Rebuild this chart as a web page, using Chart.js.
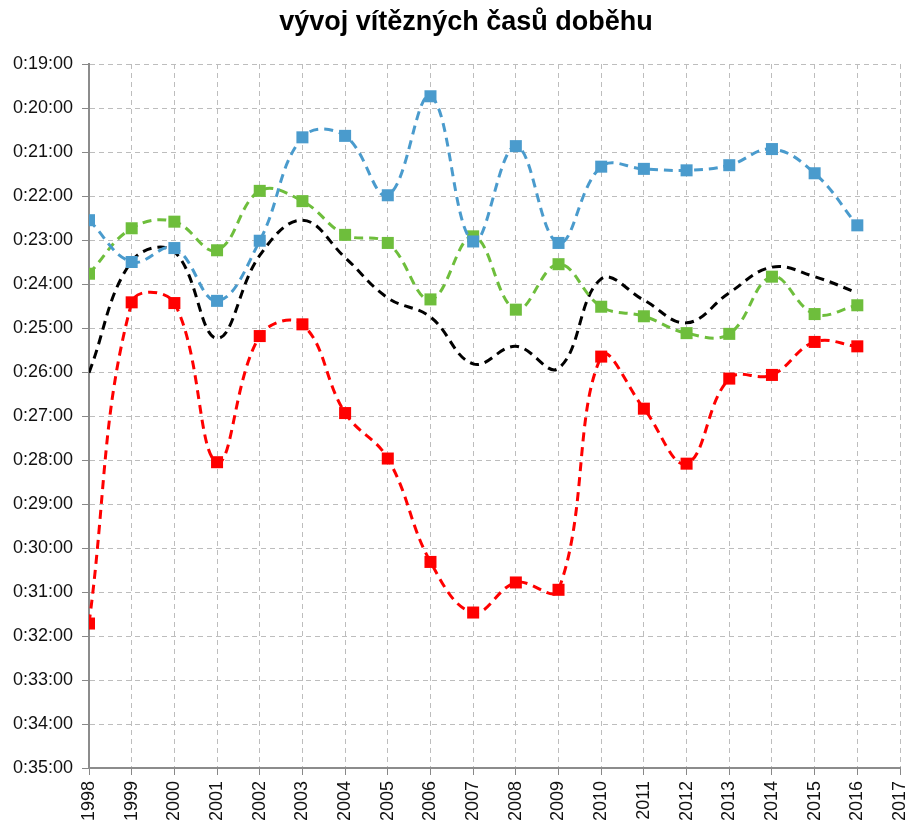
<!DOCTYPE html>
<html>
<head>
<meta charset="utf-8">
<script src="https://cdn.jsdelivr.net/npm/chart.js@4"></script>
<style>
  body { margin: 0; background: #fff; }
  #wrap { width: 911px; height: 822px; position: relative; }
</style>
</head>
<body>
<div id="wrap"><canvas id="chart"></canvas></div>
<script>
// roky a časy (mm:ss)
const years = [1998, 1999, 2000, 2001, 2002, 2003, 2004, 2005, 2006, 2007,
               2008, 2009, 2010, 2011, 2012, 2013, 2014, 2015, 2016];

const blueTimes  = ['22:33', '23:30', '23:11', '24:23', '23:01', '20:40', '20:38', '21:59', '19:44', '23:02',
                    '20:52', '23:04', '21:20', '21:23', '21:25', '21:18', '20:56', '21:29', '22:40'];
const greenTimes = ['23:46', '22:44', '22:35', '23:14', '21:53', '22:07', '22:53', '23:04', '24:21', '22:55',
                    '24:35', '23:33', '24:31', '24:44', '25:07', '25:08', '23:50', '24:41', '24:29'];
const blackTimes = ['26:01', '23:29', '23:16', '25:14', '23:21', '22:33', '23:24', '24:19', '24:45', '25:49',
                    '25:25', '25:55', '23:53', '24:22', '24:53', '24:12', '23:37', '23:50', '24:12'];
const redTimes   = ['31:43', '24:25', '24:26', '28:03', '25:11', '24:55', '26:56', '27:58', '30:19', '31:28',
                    '30:47', '30:57', '25:39', '26:50', '28:05', '26:09', '26:04', '25:19', '25:25'];

const toMin = s => { const p = s.split(':'); return +p[0] + (+p[1]) / 60; };
const points = arr => arr.map((t, i) => ({x: years[i], y: toMin(t)}));

const lineSet = (data, color, marker) => ({
  data: points(data),
  borderColor: color,
  backgroundColor: color,
  borderWidth: 3,
  borderDash: [9, 6],
  tension: 0.4,
  pointStyle: 'rect',
  pointRadius: marker ? 8.5 : 0,
  pointHoverRadius: marker ? 8.5 : 0,
  pointBorderWidth: 0,
  fill: false
});

const font = {family: '"Liberation Sans", Arial, sans-serif', size: 18};

// titulek je v originále mírně posunutý doprava
const shiftTitle = {
  id: 'shiftTitle',
  afterLayout(chart) {
    const t = chart.titleBlock;
    if (t) t.left = 2 * 466 - t.right;
  }
};

new Chart(document.getElementById('chart'), {
  type: 'line',
  data: {
    datasets: [
      lineSet(blueTimes, '#4A9BCD', true),
      lineSet(greenTimes, '#6EBE3C', true),
      lineSet(blackTimes, '#000000', false),
      lineSet(redTimes, '#FF0000', true)
    ]
  },
  plugins: [shiftTitle],
  options: {
    responsive: true,
    maintainAspectRatio: false,
    animation: false,
    layout: {padding: {left: 0, right: 11, top: 0, bottom: 0}},
    plugins: {
      legend: {display: false},
      tooltip: {enabled: false},
      title: {
        display: true,
        text: 'vývoj vítězných časů doběhu',
        color: '#000',
        font: {family: '"Liberation Sans", Arial, sans-serif', size: 27, weight: 'bold', lineHeight: 1.2},
        padding: {top: 6, bottom: 25.6}
      }
    },
    scales: {
      x: {
        type: 'linear',
        min: 1998,
        max: 2017,
        afterFit: s => { s.height = 54; s.paddingLeft = 0; s.paddingRight = 0; },
        ticks: {
          stepSize: 1,
          autoSkip: false,
          minRotation: 90,
          maxRotation: 90,
          padding: 6,
          color: '#111',
          font: font,
          callback: v => String(v)
        },
        grid: {color: '#BDBDBD', lineWidth: 1, tickLength: 7, tickColor: '#888', tickBorderDash: []},
        border: {display: true, color: '#8C8C8C', width: 2, dash: [5, 4]}
      },
      y: {
        min: 19,
        max: 35,
        reverse: true,
        afterFit: s => { s.width = 89; },
        ticks: {
          stepSize: 1,
          padding: 9,
          color: '#111',
          font: font,
          callback: v => '0:' + v + ':00'
        },
        grid: {color: '#BDBDBD', lineWidth: 1, tickLength: 7, tickColor: '#888', tickBorderDash: []},
        border: {display: true, color: '#8C8C8C', width: 2, dash: [5, 4]}
      }
    }
  }
});
</script>
</body>
</html>
